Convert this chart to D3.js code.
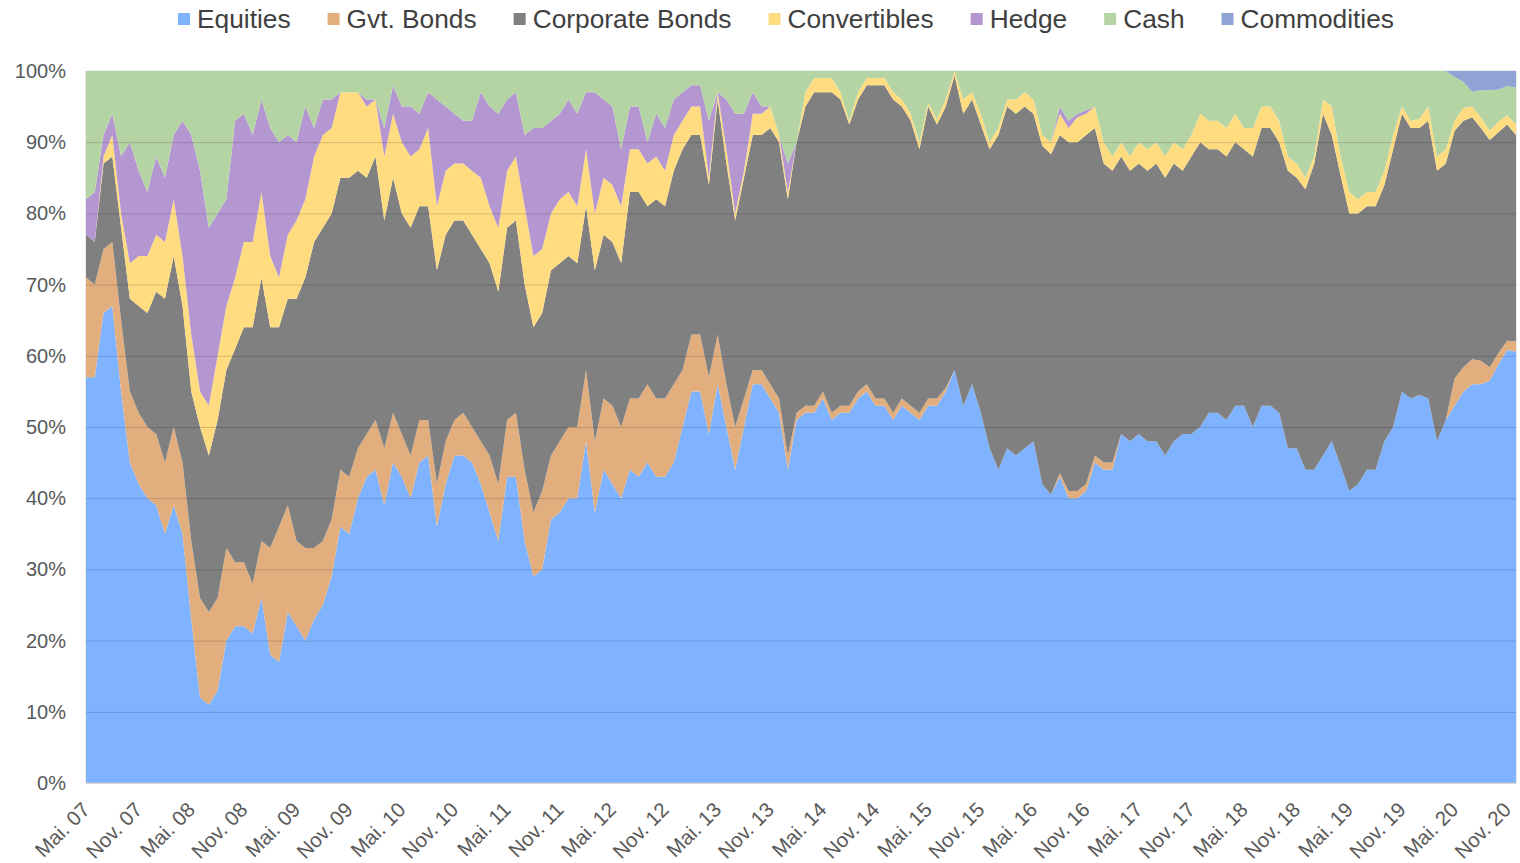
<!DOCTYPE html>
<html>
<head>
<meta charset="utf-8">
<script src="https://cdn.jsdelivr.net/npm/d3@7"></script>
<style>
  body { margin: 0; background: #fff; }
  text { font-family: "Liberation Sans", Arial, sans-serif; }
</style>
</head>
<body>
<div id="chart"></div>
<script>
// monthly allocation (%), May 2007 .. Dec 2020
var equities = [57,57,66,67,55,45,42,40,39,35,39,35,23,12,11,13,20,22,22,21,26,18,17,24,22,20,23,25,
  29,36,35,40,43,44,39,45,43,40,45,46,36,42,46,46,45,42,38,34,43,43,34,29,30,37,38,40,
  40,48,38,44,42,40,44,43,45,43,43,45,50,55,55,49,56,50,44,50,56,56,54,52,44,51,
  52,52,54,51,52,52,54,55,53,53,51,53,52,51,53,53,55,58,53,56,52,47,44,47,46,47,48,42,
  40.5,43,40,40,41,45,44,44,49,48,49,48,48,46,48,49,49,50,52,52,51,53,53,50,53,53,52,
  47,47,44,44,46,48,44.6,41,42,44,44,48,50,55,54,54.5,54,48,51,53,55,56,56,56.5,58.8,60.8,60.6];
var gvtBonds = [14,13,9,9,10,10,10,10,10,10,11,10,11,14,13,13,13,9,9,7,8,15,19,15,12,13,10,9,
  8,8,8,7,6,7,8,7,6,6,6,5,6,6,5,6,5,6,8,8,8,9,10,9,11,9,10,10,
  10,10,10,10,11,10,10,11,11,11,11,11,8,8,8,8,7,6,6,4,2,2,2,2,2,1,
  1,1,1,1,1,1,1,1,1,1,1,1,1,1,1,1,0.5,0,0,0,0,0,0,0,0,0,0,0,
  0,0.5,1,1,1,1,1,1,0,0,0,0,0,0,0,0,0,0,0,0,0,0,0,0,0,0,0,
  0,0,0,0,0,0,0,0,0,0,0,0,0,0,0,0,0,0,0,3.8,3.4,3.5,3.3,1.9,1.6,1.3,1.4];
var corpBonds = [6,6,12,12,13,13,15,16,20,23,24,22,21,24,22,25,25,30,33,36,37,31,28,29,34,38,43,44,
  43,41,42,39,36,37,32,33,31,32,30,30,30,29,28,27,27,27,27,27,27,27,26,26,25,26,25,24,
  23,23,24,23,23,23,29,29,25,28,27,30,31,28,28,27,33,31,29,31,33,33,36,36,36,38,
  42,44,42,45,43,39.5,41,42,44,44,44,41,40,37,41,38.5,39.5,41.4,41,40,40.5,42,47,48,48,48,46,47.5,
  47.8,47.5,49,49,49,46,42,41,39,38,38,38,39,39,39,37,39,40,37,37,37,37,36,38,39,39,38,
  39,38,39.4,43,48,43,40.8,39,38,37,37,36,39,39,38,37.5,39,38,36,34.8,34.6,34,32.7,31.9,31,30.4,29];
var convertibles = [0,0,1,3,2,5,7,8,8,8,8,7,8,5,7,9,9,10,12,12,12,10,7,9,11,11,12,13,
  12,12,12,11,10,8,9,9,10,10,8,11,9,9,8,8,9,10,8,9,8,9,11,10,9,8,9,9,
  8,8,8,8,8,8,6,6,6,6,5,5,4,4,4,1,1,2,1,1,3,3,3,1,1,0,
  2,2,2,2,1,0.5,1,1,1,1,1,1,1,1,0.5,0.7,1,0.6,2,1,1.5,1,1,1,2,2,2,1.5,
  1.7,3,2,3.5,3,3,3,2,2,2,3,3,3,3,3,3,3,4,4,4,4,4,3,4,3,3,3,
  2,2,1.6,1,2,4,2.6,3,2,2,2,2,2,1,1,1.3,2,2,2,1.4,1.8,1.5,1.5,1.3,1.5,1.3,1.5];
var hedge = [5,7,3,3,8,17,12,9,11,9,9,19,28,31,25,20,15,22,18,15,13,18,19,14,11,13,4,5,
  4,0,0,0,1,0,4,4,5,7,5,5,15,9,7,6,7,12,14,16,10,9,10,18,17,13,12,13,
  13,8,17,11,11,8,6,6,3,6,6,5,4,3,3,8,0,7,14,8,3,1,0,0,4,0,
  0,0,0,0,0,0,0,0,0,0,0,0,0,0,0,0,0,0,0,0,0,0,0,0,0,0,0,0,
  0,1,1,0.5,0.5,0,0,0,0,0,0,0,0,0,0,0,0,0,0,0,0,0,0,0,0,0,0,
  0,0,0,0,0,0,0,0,0,0,0,0,0,0,0,0,0,0,0,0,0,0,0,0,0,0,0];
var cash = [18,17,9,6,12,10,14,17,12,15,9,7,9,14,22,20,18,7,6,9,4,8,10,9,10,5,8,4,
  4,3,3,3,4,4,8,2,5,5,6,3,4,5,6,7,7,3,5,6,4,3,9,8,8,7,6,4,
  6,3,3,4,5,11,5,5,10,6,8,4,3,2,2,7,3,4,6,6,3,5,5,9,13,10,
  3,1,1,1,3,7,3,1,1,1,3,4,6,10,4.5,6.8,4,0,4,3,6,10,8,4,4,3,4,9,
  10,5,7,6,5.5,5,10,12,10,12,10,11,10,12,10,11,9,6,7,7,8,6,8,8,5,5,7,
  12,13,15,12,4,5,12,17,18,17,17,14,9,5,7,6.7,5,12,11,6.2,3.7,2.1,3.8,5.7,4.5,4.1,5.2];
var commodities = [0,0,0,0,0,0,0,0,0,0,0,0,0,0,0,0,0,0,0,0,0,0,0,0,0,0,0,0,
  0,0,0,0,0,0,0,0,0,0,0,0,0,0,0,0,0,0,0,0,0,0,0,0,0,0,0,0,
  0,0,0,0,0,0,0,0,0,0,0,0,0,0,0,0,0,0,0,0,0,0,0,0,0,0,
  0,0,0,0,0,0,0,0,0,0,0,0,0,0,0,0,0,0,0,0,0,0,0,0,0,0,0,0,
  0,0,0,0,0,0,0,0,0,0,0,0,0,0,0,0,0,0,0,0,0,0,0,0,0,0,0,
  0,0,0,0,0,0,0,0,0,0,0,0,0,0,0,0,0,0,0,0.8,1.5,2.9,2.7,2.7,2.6,2.1,2.3];

var seriesNames = ['Equities', 'Gvt. Bonds', 'Corporate Bonds', 'Convertibles', 'Hedge', 'Cash', 'Commodities'];
var seriesData = [equities, gvtBonds, corpBonds, convertibles, hedge, cash, commodities];
var colors = ['#80b3ff', '#e3ae7d', '#808080', '#ffdc80', '#b497d0', '#b5d4a4', '#8fa4d5'];

var tickLabels = ['Mai. 07','Nov. 07','Mai. 08','Nov. 08','Mai. 09','Nov. 09','Mai. 10','Nov. 10',
  'Mai. 11','Nov. 11','Mai. 12','Nov. 12','Mai. 13','Nov. 13','Mai. 14','Nov. 14','Mai. 15','Nov. 15',
  'Mai. 16','Nov. 16','Mai. 17','Nov. 17','Mai. 18','Nov. 18','Mai. 19','Nov. 19','Mai. 20','Nov. 20'];

var width = 1520;
var height = 863;
var plotLeft = 86, plotRight = 1516, plotTop = 71, plotBottom = 783;

var n = equities.length;
var rows = d3.range(n).map(function (i) {
  var r = { i: i };
  seriesNames.forEach(function (k, j) { r[k] = seriesData[j][i]; });
  return r;
});

var svg = d3.select('#chart').append('svg')
    .attr('width', width)
    .attr('height', height);

var xScale = d3.scalePoint()
    .domain(d3.range(n))
    .range([plotLeft, plotRight]);

var yScale = d3.scaleLinear()
    .domain([0, 1])
    .range([plotBottom, plotTop]);

var stacked = d3.stack()
    .keys(seriesNames)
    .offset(d3.stackOffsetExpand)(rows);

var area = d3.area()
    .x(d => xScale(d.data.i))
    .y0(d => yScale(d[0]))
    .y1(d => yScale(d[1]));

// plot border
svg.append('rect')
    .attr('x', plotLeft).attr('y', plotTop)
    .attr('width', plotRight - plotLeft).attr('height', plotBottom - plotTop)
    .attr('fill', 'none')
    .attr('stroke', '#d9d9d9');

svg.append('g')
  .selectAll('path')
  .data(stacked)
  .enter()
  .append('path')
    .attr('d', area)
    .attr('fill', (d, j) => colors[j]);

// gridlines drawn over the areas, as they show through in the original
var yAxis = d3.axisLeft(yScale)
    .tickValues(d3.range(0, 1.01, 0.1))
    .tickFormat(d3.format('.0%'))
    .tickSize(-(plotRight - plotLeft))
    .tickPadding(20);

var gy = svg.append('g')
    .attr('transform', 'translate(' + plotLeft + ',0)')
    .call(yAxis);
gy.select('.domain').remove();
gy.selectAll('line')
    .attr('stroke', '#000')
    .attr('stroke-opacity', d => (d > 0.05 && d < 0.95) ? 0.16 : 0);
gy.selectAll('text')
    .attr('fill', '#595959')
    .style('font-size', '20px');

// x axis line + rotated labels
svg.append('line')
    .attr('x1', plotLeft).attr('x2', plotRight)
    .attr('y1', plotBottom).attr('y2', plotBottom)
    .attr('stroke', '#bfbfbf');

var tickIdx = d3.range(0, n, 6);
svg.append('g')
  .selectAll('text')
  .data(tickIdx)
  .enter()
  .append('text')
    .attr('transform', d => 'translate(' + (xScale(d) + 5) + ',' + 811 + ') rotate(-45)')
    .attr('text-anchor', 'end')
    .attr('fill', '#595959')
    .style('font-size', '20.5px')
    .text((d, k) => tickLabels[k]);

// legend
var legend = svg.append('g');
var lx = 178;
seriesNames.forEach(function (name, j) {
  legend.append('rect')
      .attr('x', lx).attr('y', 13)
      .attr('width', 12).attr('height', 12)
      .attr('fill', colors[j]);
  var t = legend.append('text')
      .attr('x', lx + 19).attr('y', 28)
      .attr('fill', '#404040')
      .style('font-size', '26.3px')
      .text(name);
  lx += 19 + t.node().getComputedTextLength() + 37;
});
</script>
</body>
</html>
